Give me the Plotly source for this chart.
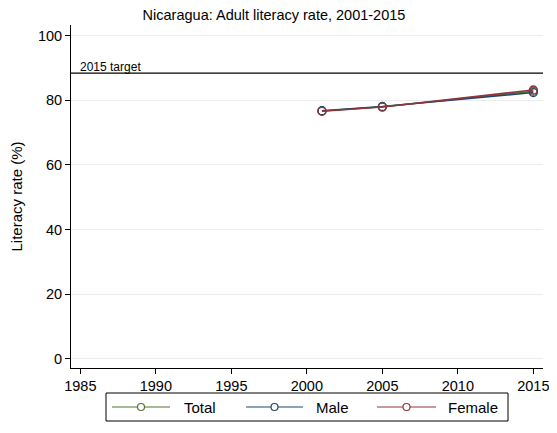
import plotly.graph_objects as go

years = [2001, 2005, 2015]
total = [76.7, 78.0, 82.8]
male = [76.8, 78.1, 82.4]
female = [76.6, 77.9, 83.2]
target = 88.4
target_label = "2015 target"
series_names = ["Total", "Male", "Female"]
series_colors = ["#55752f", "#1a476f", "#90353b"]
x_ticks = [1985, 1990, 1995, 2000, 2005, 2010, 2015]
y_ticks = [0, 20, 40, 60, 80, 100]

# page body has an 8px default margin; work in figure pixels
OFF = 8
FW, FH = 557 - OFF, 433 - OFF
L, R, T, B = 71 - OFF, 543 - OFF, 25 - OFF, 368 - OFF
W, H = R - L, B - T


def px(xp):
    return (xp - OFF - L) / W


def py(yp):
    return (B - (yp - OFF)) / H


fig = go.Figure()
for name, vals, col in zip(series_names, [total, male, female], series_colors):
    fig.add_trace(go.Scatter(
        x=years, y=vals, name=name, mode="lines+markers",
        line=dict(color=col, width=1.5),
        marker=dict(symbol="circle-open", size=8, color=col, line=dict(width=1.3, color=col)),
        showlegend=False,
    ))

fig.add_shape(type="line", xref="paper", x0=0, x1=1, yref="y", y0=target, y1=target,
              line=dict(color="black", width=1.2))
fig.add_annotation(x=1985, y=target, xref="x", yref="y", text=target_label,
                   showarrow=False, xanchor="left", yanchor="bottom",
                   font=dict(size=12, color="black"), xshift=-2, yshift=-3)

# manual legend (Stata style), positions in page pixels
fig.add_shape(type="rect", xref="paper", yref="paper",
              x0=px(106), x1=px(508), y0=py(421), y1=py(393),
              line=dict(color="black", width=1), fillcolor="white")
leg_items = [(112, 170, 182), (246, 303, 314), (377, 436, 446)]
ly = 407
for (x0, x1, tx), name, col in zip(leg_items, series_names, series_colors):
    fig.add_shape(type="line", xref="paper", yref="paper",
                  x0=px(x0), x1=px(x1), y0=py(ly), y1=py(ly),
                  line=dict(color=col, width=1.2))
    cx = (x0 + x1) / 2
    fig.add_shape(type="circle", xref="paper", yref="paper",
                  x0=px(cx - 3.5), x1=px(cx + 3.5), y0=py(ly + 3.5), y1=py(ly - 3.5),
                  line=dict(color=col, width=1.2), fillcolor="white")
    fig.add_annotation(x=px(tx), y=py(ly), xref="paper", yref="paper", text=name,
                       showarrow=False, xanchor="left", yanchor="middle",
                       font=dict(size=15, color="black"))

fig.update_layout(
    width=FW, height=FH,
    margin=dict(l=L, r=FW - R, t=T, b=FH - B, autoexpand=False),
    paper_bgcolor="white", plot_bgcolor="white",
    font=dict(family="Liberation Sans, Arial, sans-serif", size=15, color="black"),
    title=dict(text="Nicaragua: Adult literacy rate, 2001-2015", x=(274 - OFF) / FW,
               xanchor="center", y=1 - 2 / FH, yanchor="top", pad=dict(t=0),
               font=dict(size=14.5)),
    showlegend=False,
)
fig.update_xaxes(range=[1984.38, 2015.64], tickvals=x_ticks, ticks="outside", ticklen=5,
                 tickcolor="black", showline=True, linecolor="black", linewidth=1,
                 showgrid=False, zeroline=False, tickfont=dict(size=14.5), automargin=False)
fig.update_yaxes(range=[-2.8, 103.3], tickvals=y_ticks, ticks="outside", ticklen=5,
                 tickcolor="black", showline=True, linecolor="black", linewidth=1,
                 showgrid=True, gridcolor="#ececec", gridwidth=1, zeroline=False,
                 title=dict(text="Literacy rate (%)", font=dict(size=15)),
                 tickfont=dict(size=14.5), automargin=False)

fig.write_html("out.html")
